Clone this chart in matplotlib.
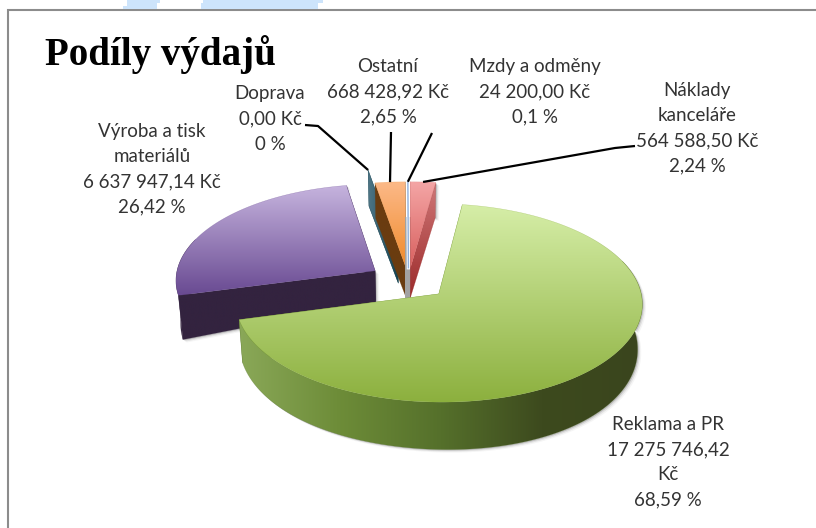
import matplotlib
matplotlib.use("Agg")
import matplotlib.pyplot as plt
from matplotlib.colors import LinearSegmentedColormap
from matplotlib.patches import Polygon
import numpy as np

# pie data, in the order the slices go round from 12 o'clock
names = ["Náklady\nkanceláře", "Reklama a PR", "Výroba a tisk\nmateriálů", "Doprava", "Ostatní", "Mzdy a odměny"]
amounts = [564588.50, 17275746.42, 6637947.14, 0.00, 668428.92, 24200.00]
amount_labels = ["564 588,50 Kč", "17 275 746,42\nKč", "6 637 947,14 Kč", "0,00 Kč", "668 428,92 Kč", "24 200,00 Kč"]
percent_labels = ["2,24 %", "68,59 %", "26,42 %", "0 %", "2,65 %", "0,1 %"]

# style per slice
explode = [0.14, 0.20, 0.20, 0.31, 0.14, 0.14]
top_colors = [("#f4a5a5", "#d8605e"), ("#d6eea8", "#8cb03e"), ("#c6b4de", "#694a92"),
              ("#4f7686", "#14414f"), ("#fcb988", "#ef8a2b"), ("#8fb0dc", "#8fb0dc")]
side_colors = [("#cf7878", "#9c2a2a"), ("#8aa858", "#6d8c38", "#55702b", "#3d4a1e", "#3a451d"), ("#33233f", "#33233f"),
               ("#4f7686", "#14414f"), ("#6a3c10", "#6a3c10"), ("#a2a2a2", "#a2a2a2")]
draw_order = [2, 3, 4, 5, 0, 1]

label_pos = [(697, 128), (668, 462), (152, 169), (270, 119), (388, 92), (535, 92)]
leader_starts = [[(635, 146), (615, 148)], [], [], [(305, 125), (318, 126)], [(391, 132)], [(432, 133)]]

CX, CY = 408.5, 281
RX, RY = 200, 96
PERSP = 0.09


def project(u, v):
    k = 1 / (1 + PERSP * v)
    return CX + RX * u * k, CY - RY * v * k


def slice_point(a, ex, r=1.0):
    # point on the rim of a slice moved out by ex=(ux, vx) along its middle angle
    a = np.radians(a)
    return project(ex[0] + r * np.sin(a), ex[1] + r * np.cos(a))


def lower(x, y):
    # same point on the underside of the pie, the wall gets taller away from the centre and towards the viewer
    x = np.asarray(x, dtype=float)
    y = np.asarray(y, dtype=float)
    wall = 29 + 0.06 * np.hypot(x - CX, y - CY) + 0.09 * np.maximum(y - CY, 0)
    return x - 0.02 * (x - CX), y + wall


def gradient_fill(ax, pts, colors, horizontal=False, zorder=2):
    pts = np.array(pts)
    x0, y0 = pts.min(axis=0)
    x1, y1 = pts.max(axis=0)
    cmap = LinearSegmentedColormap.from_list("g", colors)
    grad = np.linspace(0, 1, 256)
    grad = grad.reshape(1, -1) if horizontal else grad.reshape(-1, 1)
    im = ax.imshow(grad, cmap=cmap, extent=(x0, x1, y1, y0), aspect="auto", zorder=zorder, interpolation="bilinear")
    im.set_clip_path(Polygon(pts, closed=True, transform=ax.transData))
    # thin edge so that the clipped image does not look jagged
    ax.add_patch(Polygon(pts, closed=True, fill=False, edgecolor=colors[len(colors) // 2], lw=0.3, alpha=0.5, zorder=zorder))


fig = plt.figure(figsize=(8.16, 5.28), dpi=100, facecolor="white")
ax = fig.add_axes([0, 0, 1, 1])
ax.set_xlim(0, 816)
ax.set_ylim(528, 0)
ax.axis("off")

# chart frame and the bit of page showing above it
ax.plot([7.5, 7.5, 816], [528, 10, 10], color="#8c8c8c", lw=1.5, zorder=1, solid_joinstyle="miter")
for xs, ys in [([123, 123, 127, 127, 160, 160, 157, 157], [9, 6, 6, 0, 0, 3, 3, 9]),
               ([201, 201, 203, 203, 323, 323, 318, 318], [9, 3, 3, 0, 0, 3, 3, 9])]:
    ax.fill(xs, ys, color="#cde4fb", lw=0, zorder=1)

fractions = np.array(amounts) / sum(amounts)
ends = np.cumsum(fractions) * 360
starts = ends - fractions * 360

for z, i in enumerate(draw_order):
    a0, a1 = starts[i], ends[i]
    mid = np.radians((a0 + a1) / 2)
    ex = (explode[i] * np.sin(mid), explode[i] * np.cos(mid))
    base = 10 + z * 4
    xs, ys = slice_point(np.linspace(a0, a1, 200), ex)
    ax0, ay0 = slice_point(0, ex, r=0)
    top = [(ax0, ay0)] + list(zip(xs, ys))
    bx, by = lower(ax0, ay0)

    # soft shadow under the slice
    if i in (0, 1, 2):
        lx, ly = lower(xs[::-1], ys[::-1])
        sil = top + list(zip(lx, ly)) + [(bx, by)]
        for off, alpha in [(2, 0.25), (4, 0.12), (6, 0.06)]:
            ax.add_patch(Polygon(np.array(sil) + [off * 0.6, off * 0.5], closed=True, color="#555555", alpha=alpha, lw=0, zorder=base))

    if i == 5:
        # the hairline slice only shows a grey strip below its top face
        ox, oy = slice_point((a0 + a1) / 2, ex)
        _, oby = lower(ox, oy)
        ax.fill([ax0 - 3, ax0 + 3, ax0 + 3, ax0 - 3], [oby, oby, by, by], color="#a2a2a2", lw=0, zorder=base)
        ax.plot([ox, ax0], [oy, ay0], color="white", lw=2.4, zorder=base + 1)
        ax.plot([ox, ax0], [oy, ay0], color=top_colors[i][0], lw=1.0, zorder=base + 1)
        continue

    # flat cut faces
    for a in (a0, a1):
        ox, oy = slice_point(a, ex)
        olx, oly = lower(ox, oy)
        face = [(ax0, ay0), (ox, oy), (olx, oly), (bx, by)]
        gradient_fill(ax, face, side_colors[i][:2], horizontal=(i == 3), zorder=base + 1)

    # outer wall, only the part that can face the viewer
    w0, w1 = max(a0, 70), min(a1, 290)
    if w1 > w0:
        wx, wy = slice_point(np.linspace(w0, w1, 300), ex)
        lx, ly = lower(wx, wy)
        wall = list(zip(wx, wy)) + list(zip(lx[::-1], ly[::-1]))
        gradient_fill(ax, wall, side_colors[i], horizontal=True, zorder=base + 2)

    if a1 > a0:
        gradient_fill(ax, top, top_colors[i], zorder=base + 3)

# leader lines go from the label to the outer edge of the slice
for i in range(len(names)):
    if not leader_starts[i]:
        continue
    mid = (starts[i] + ends[i]) / 2
    rad = np.radians(mid)
    ex = (explode[i] * np.sin(rad), explode[i] * np.cos(rad))
    pts = leader_starts[i] + [slice_point(mid, ex)]
    ax.plot([p[0] for p in pts], [p[1] for p in pts], color="black", lw=1.6, zorder=60, solid_capstyle="butt")

for i in range(len(names)):
    text = names[i] + "\n" + amount_labels[i] + "\n" + percent_labels[i]
    ax.text(label_pos[i][0], label_pos[i][1], text, ha="center", va="center", family="Lato",
            fontsize=13.5, linespacing=1.58, color="#333333", zorder=70)

ax.text(45, 55, "Podíly výdajů", family="Liberation Serif", fontweight="bold", fontsize=28,
        color="black", ha="left", va="center", zorder=70)

ax.set_xlim(0, 816)
ax.set_ylim(528, 0)
fig.savefig("out.png", dpi=100)
